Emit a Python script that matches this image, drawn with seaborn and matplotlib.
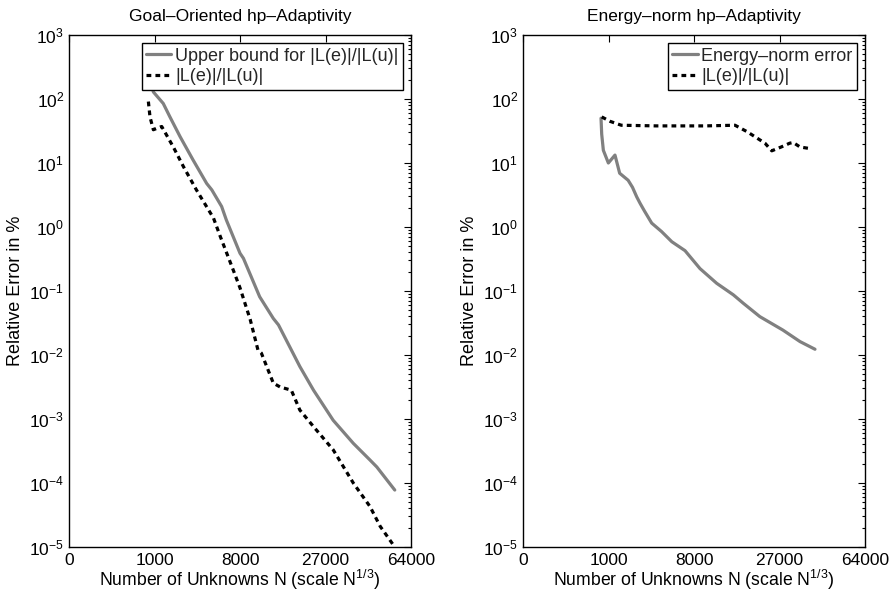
import numpy as np
import pandas as pd
import matplotlib
matplotlib.use("Agg")
import matplotlib.pyplot as plt
from matplotlib.ticker import LogLocator, FixedLocator, FixedFormatter, NullLocator
import seaborn as sns

# ---------------- data ----------------
# Left panel: Goal-oriented hp-adaptivity
go_bound_N = [830, 960, 1340, 1645, 2197, 3050, 4175, 4660, 5690, 6230, 8000, 8490,
              11090, 13650, 14710, 19680, 23390, 29500, 36760, 43610, 46660, 55310]
go_bound_err = [224, 129, 85.1, 52.5, 25.7, 11.2, 4.79, 3.80, 2.09, 1.29, 0.389, 0.324,
                0.0813, 0.0372, 0.0295, 6.61e-3, 2.82e-3, 9.55e-4, 4.17e-4, 2.29e-4,
                1.78e-4, 7.76e-5]

go_qoi_N = [800, 850, 960, 1275, 1815, 2405, 3310, 4825, 5545, 7080, 8000, 9530,
            10790, 11390, 13650, 15070, 17580, 19680, 23390, 29500, 36760, 43610,
            48230, 55310]
go_qoi_err = [91.2, 52.5, 33.1, 37.2, 17.8, 8.71, 3.80, 1.38, 0.708, 0.214, 0.112,
              0.0355, 0.0120, 0.0107, 3.63e-3, 3.16e-3, 2.82e-3, 1.38e-3, 7.6e-4,
              3.3e-4, 1.0e-4, 4.3e-5, 2.1e-5, 1.0e-5]

# Right panel: Energy-norm hp-adaptivity
en_energy_N = [760, 780, 830, 995, 1245, 1445, 1860, 2100, 2355, 2570, 2865, 3410,
               4250, 5270, 6805, 8870, 11620, 14890, 17070, 21250, 28090, 34010, 39830]
en_energy_err = [50.1, 28.2, 15.8, 10.0, 13.3, 6.92, 5.37, 4.17, 2.95, 2.34, 1.78, 1.15,
                 0.851, 0.589, 0.427, 0.224, 0.132, 0.0871, 0.0646, 0.0398, 0.0245,
                 0.0162, 0.0123]

en_qoi_N = [780, 1060, 1520, 3795, 9665, 15250, 17985, 22665, 24640, 27545, 30370,
            31555, 34010, 38615]
en_qoi_err = [52.5, 44.7, 38.9, 38.0, 38.0, 38.9, 30.9, 20.4, 15.5, 17.8, 20.4, 20.9,
              17.8, 16.6]

x_ticks = [0, 1000, 8000, 27000, 64000]
x_tick_labels = ["0", "1000", "8000", "27000", "64000"]

titles = ["Goal\u2013Oriented hp\u2013Adaptivity", "Energy\u2013norm hp\u2013Adaptivity"]
legend_left = ["Upper bound for |L(e)|/|L(u)|", "|L(e)|/|L(u)|"]
legend_right = ["Energy\u2013norm error", "|L(e)|/|L(u)|"]

# ---------------- style ----------------
sns.set_theme(style="white")
plt.rcParams["font.family"] = ["Liberation Sans", "DejaVu Sans"]
plt.rcParams["mathtext.fontset"] = "custom"
plt.rcParams["mathtext.rm"] = "Liberation Sans"
plt.rcParams["mathtext.it"] = "Liberation Sans:italic"
plt.rcParams["mathtext.bf"] = "Liberation Sans:bold"

FS = 13
FS_TICK = 12.5
GRAY = (0.5, 0.5, 0.5)
LW = 2.3
DASH = (0, (1.5, 1.3))

fig = plt.figure(figsize=(8.92, 5.96), dpi=100)
W, H = 892, 596
ax_l = fig.add_axes([69 / W, 1 - 547 / H, (411 - 69) / W, (547 - 35) / H])
ax_r = fig.add_axes([523 / W, 1 - 547 / H, (865 - 523) / W, (547 - 35) / H])


def draw(ax, solid_N, solid_v, dash_N, dash_v, labels, title):
    df_s = pd.DataFrame({"N": solid_N, "err": solid_v})
    df_d = pd.DataFrame({"N": dash_N, "err": dash_v})
    sns.lineplot(data=df_s, x="N", y="err", ax=ax, color=GRAY, lw=LW,
                 estimator=None, label=labels[0])
    sns.lineplot(data=df_d, x="N", y="err", ax=ax, color="black", lw=LW,
                 estimator=None, label=labels[1], linestyle=DASH)
    ax.set_yscale("log")
    ax.set_xscale("function", functions=(np.cbrt, lambda v: np.power(v, 3)))
    ax.set_xlim(0, 64000)
    ax.set_ylim(1e-5, 1e3)
    ax.xaxis.set_major_locator(FixedLocator(x_ticks))
    ax.xaxis.set_major_formatter(FixedFormatter(x_tick_labels))
    ax.xaxis.set_minor_locator(NullLocator())
    ax.yaxis.set_major_locator(LogLocator(base=10, numticks=20))
    ax.yaxis.set_minor_locator(LogLocator(base=10, subs=np.arange(2, 10) * 1.0, numticks=100))
    ax.tick_params(axis="both", which="both", direction="in", top=True, right=True,
                   labelsize=FS_TICK, colors="black", width=0.8)
    ax.tick_params(axis="x", which="major", pad=4)
    ax.tick_params(which="major", length=5)
    ax.tick_params(which="minor", length=2.5)
    for s in ax.spines.values():
        s.set_color("black")
        s.set_linewidth(1.0)
    ax.set_xlabel("Number of Unknowns N (scale N$^{1/3}$)", fontsize=12.7, color="black",
                  labelpad=0)
    ax.set_ylabel("Relative Error in %", fontsize=FS, color="black", labelpad=4)
    ax.set_title(title, fontsize=12.5, color="black", pad=10)
    ax.set_facecolor("white")
    leg = ax.legend(loc="upper right", fontsize=FS, frameon=True, fancybox=False,
                    borderaxespad=0.45, handlelength=1.4, handletextpad=0.2,
                    borderpad=0.25, labelspacing=0.2)
    leg.get_frame().set_edgecolor("black")
    leg.get_frame().set_linewidth(1.0)
    leg.get_frame().set_alpha(1.0)


draw(ax_l, go_bound_N, go_bound_err, go_qoi_N, go_qoi_err, legend_left, titles[0])
draw(ax_r, en_energy_N, en_energy_err, en_qoi_N, en_qoi_err, legend_right, titles[1])

fig.savefig("out.png", dpi=100, facecolor="white")
